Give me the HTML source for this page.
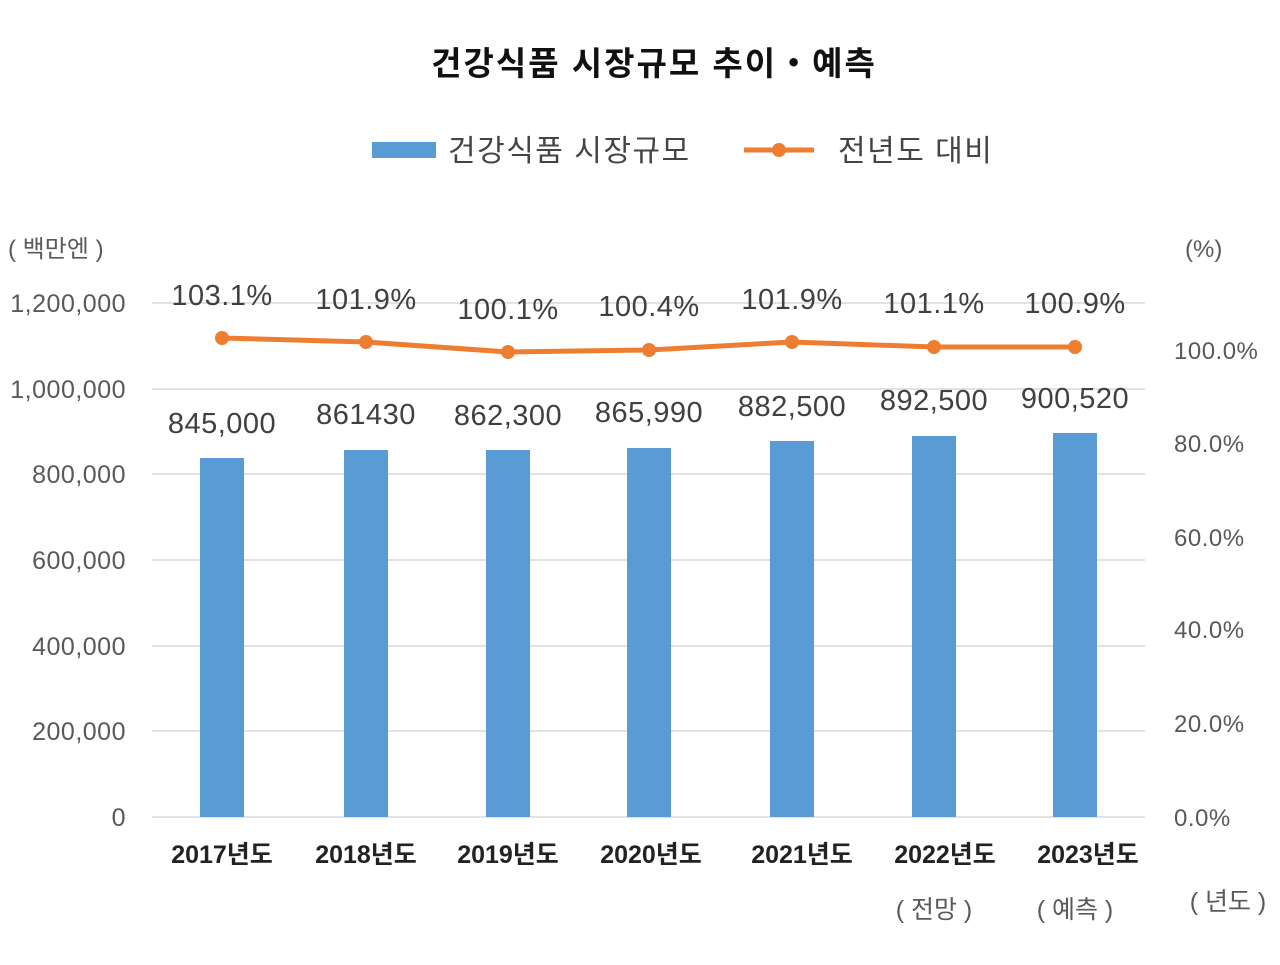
<!DOCTYPE html>
<html><head><meta charset="utf-8"><style>
body{margin:0;background:#fff;}
svg text{font-family:"Liberation Sans","Noto Sans CJK KR",sans-serif;}
</style></head><body>
<svg width="1280" height="960" viewBox="0 0 1280 960" xmlns="http://www.w3.org/2000/svg">
<rect width="1280" height="960" fill="#fff"/>
<text x="654" y="75" text-anchor="middle" font-size="33" font-weight="bold" fill="#111" letter-spacing="2">건강식품 시장규모 추이・예측</text>
<rect x="372" y="142" width="64" height="16" fill="#5b9bd5"/>
<text x="448" y="161" font-size="30" fill="#444" letter-spacing="1.5">건강식품 시장규모</text>
<line x1="744" y1="150" x2="814" y2="150" stroke="#ed7d31" stroke-width="5"/>
<circle cx="779" cy="150" r="7" fill="#ed7d31"/>
<text x="838" y="161" font-size="30" fill="#444" letter-spacing="1.5">전년도 대비</text>
<text x="8" y="257" font-size="24" fill="#595959">( 백만엔 )</text>
<text x="1185" y="257" font-size="24" fill="#595959">(%)</text>
<g stroke="#d9d9d9" stroke-width="1.5">
<line x1="152" y1="303" x2="1145" y2="303"/>
<line x1="152" y1="389" x2="1145" y2="389"/>
<line x1="152" y1="474" x2="1145" y2="474"/>
<line x1="152" y1="560" x2="1145" y2="560"/>
<line x1="152" y1="646" x2="1145" y2="646"/>
<line x1="152" y1="731" x2="1145" y2="731"/>
<line x1="152" y1="817" x2="1145" y2="817"/>
</g>
<g font-size="25" fill="#595959" text-anchor="end" letter-spacing="0.5">
<text x="126" y="312">1,200,000</text>
<text x="126" y="398">1,000,000</text>
<text x="126" y="483">800,000</text>
<text x="126" y="569">600,000</text>
<text x="126" y="655">400,000</text>
<text x="126" y="740">200,000</text>
<text x="126" y="826">0</text>
</g>
<g font-size="24" fill="#595959" letter-spacing="0.5">
<text x="1174" y="359">100.0%</text>
<text x="1174" y="452">80.0%</text>
<text x="1174" y="546">60.0%</text>
<text x="1174" y="638">40.0%</text>
<text x="1174" y="732">20.0%</text>
<text x="1174" y="826">0.0%</text>
</g>
<g fill="#5b9bd5">
<rect x="200" y="458" width="44" height="359"/>
<rect x="344" y="450" width="44" height="367"/>
<rect x="486" y="450" width="44" height="367"/>
<rect x="627" y="448" width="44" height="369"/>
<rect x="770" y="441" width="44" height="376"/>
<rect x="912" y="436" width="44" height="381"/>
<rect x="1053" y="433" width="44" height="384"/>
</g>
<g font-size="29" fill="#404040" text-anchor="middle" letter-spacing="0.5">
<text x="222" y="433">845,000</text>
<text x="366" y="424">861430</text>
<text x="508" y="425">862,300</text>
<text x="649" y="422">865,990</text>
<text x="792" y="416">882,500</text>
<text x="934" y="410">892,500</text>
<text x="1075" y="408">900,520</text>
<text x="222" y="305">103.1%</text>
<text x="366" y="309">101.9%</text>
<text x="508" y="319">100.1%</text>
<text x="649" y="316">100.4%</text>
<text x="792" y="309">101.9%</text>
<text x="934" y="313">101.1%</text>
<text x="1075" y="313">100.9%</text>
</g>
<polyline points="222,338 366,342 508,352 649,350 792,342 934,347 1075,347" fill="none" stroke="#ed7d31" stroke-width="5"/>
<g fill="#ed7d31">
<circle cx="222" cy="338" r="7"/><circle cx="366" cy="342" r="7"/><circle cx="508" cy="352" r="7"/><circle cx="649" cy="350" r="7"/><circle cx="792" cy="342" r="7"/><circle cx="934" cy="347" r="7"/><circle cx="1075" cy="347" r="7"/>
</g>
<g font-size="25" font-weight="bold" fill="#222" text-anchor="middle">
<text x="222" y="863">2017년도</text>
<text x="366" y="863">2018년도</text>
<text x="508" y="863">2019년도</text>
<text x="651" y="863">2020년도</text>
<text x="802" y="863">2021년도</text>
<text x="945" y="863">2022년도</text>
<text x="1088" y="863">2023년도</text>
</g>
<g font-size="25" fill="#595959" text-anchor="middle">
<text x="934" y="918">( 전망 )</text>
<text x="1075" y="918">( 예측 )</text>
<text x="1228" y="910">( 년도 )</text>
</g>
</svg>
</body></html>
